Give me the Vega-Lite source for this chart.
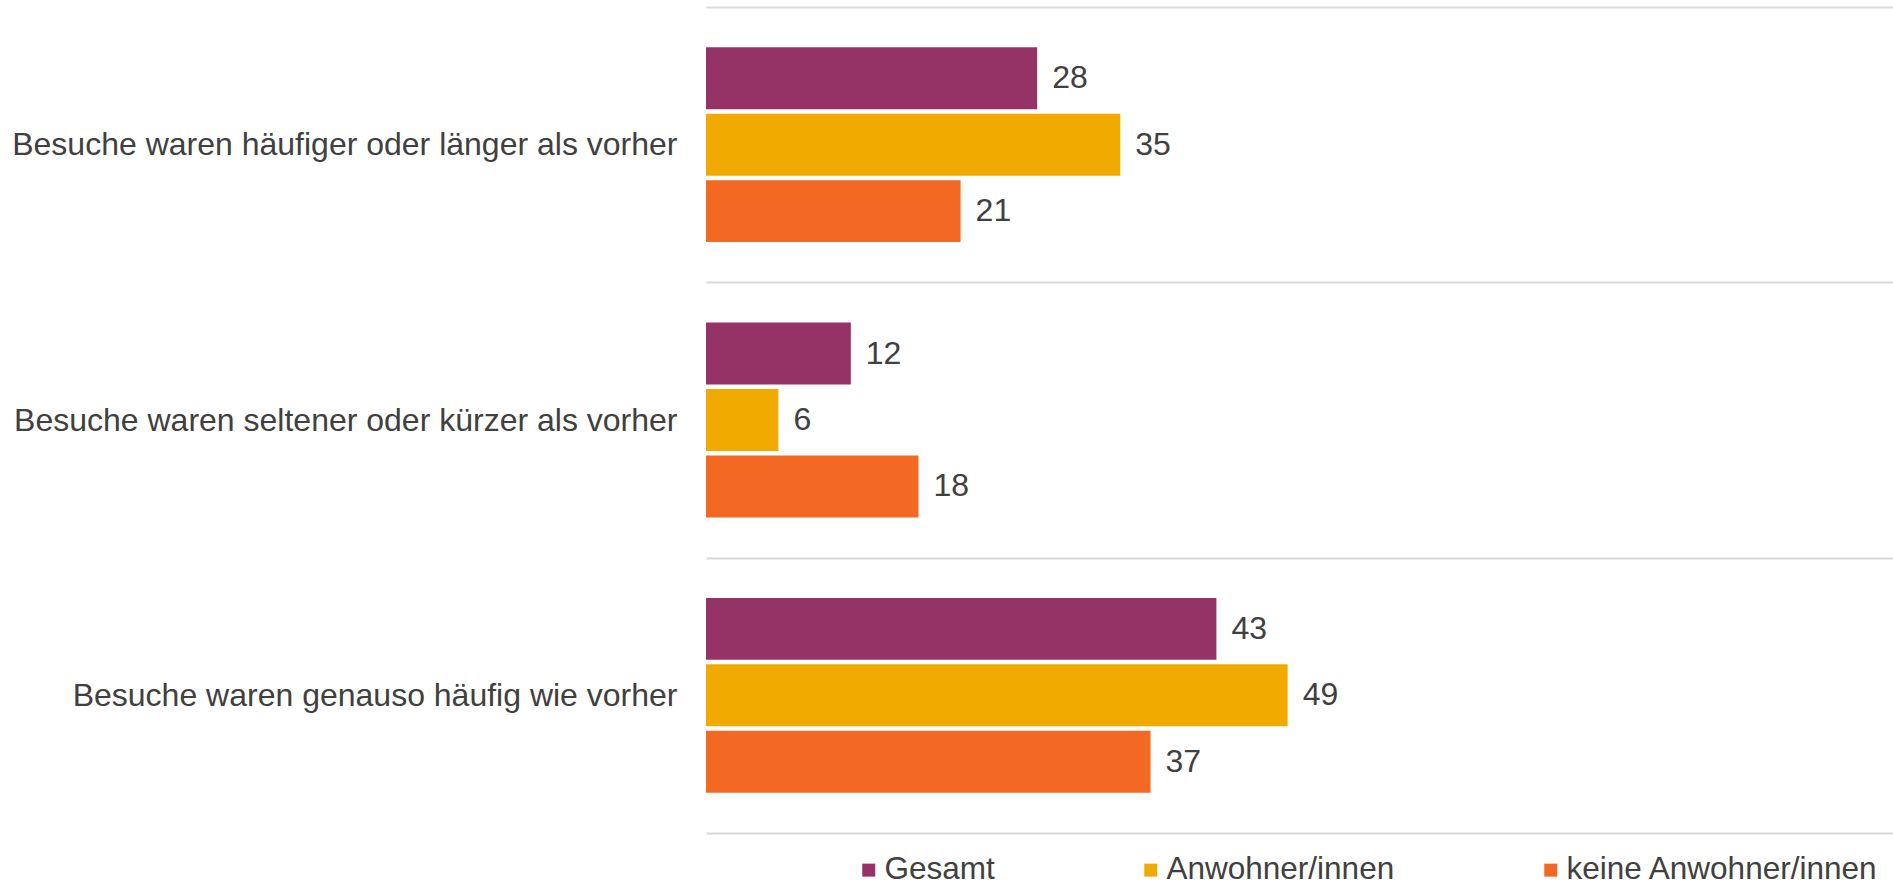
{
  "$schema": "https://vega.github.io/schema/vega-lite/v6.json",
  "width": 1187,
  "height": 826,
  "autosize": {"type": "none"},
  "padding": {"left": 706, "top": 7, "right": 0, "bottom": 53},
  "background": "white",
  "config": {"view": {"stroke": null}, "font": "Liberation Sans"},
  "data": {"values": [
    {"kategorie": "Besuche waren häufiger oder länger als vorher", "gruppe": "Gesamt", "wert": 27.9},
    {"kategorie": "Besuche waren häufiger oder länger als vorher", "gruppe": "Anwohner/innen", "wert": 34.9},
    {"kategorie": "Besuche waren häufiger oder länger als vorher", "gruppe": "keine Anwohner/innen", "wert": 21.45},
    {"kategorie": "Besuche waren seltener oder kürzer als vorher", "gruppe": "Gesamt", "wert": 12.2},
    {"kategorie": "Besuche waren seltener oder kürzer als vorher", "gruppe": "Anwohner/innen", "wert": 6.1},
    {"kategorie": "Besuche waren seltener oder kürzer als vorher", "gruppe": "keine Anwohner/innen", "wert": 17.9},
    {"kategorie": "Besuche waren genauso häufig wie vorher", "gruppe": "Gesamt", "wert": 43},
    {"kategorie": "Besuche waren genauso häufig wie vorher", "gruppe": "Anwohner/innen", "wert": 49},
    {"kategorie": "Besuche waren genauso häufig wie vorher", "gruppe": "keine Anwohner/innen", "wert": 37.45}
  ]},
  "encoding": {
    "y": {
      "field": "kategorie",
      "type": "nominal",
      "sort": ["Besuche waren häufiger oder länger als vorher", "Besuche waren seltener oder kürzer als vorher", "Besuche waren genauso häufig wie vorher"],
      "scale": {"paddingInner": 0, "paddingOuter": 0},
      "axis": {
        "title": null,
        "domain": false,
        "ticks": false,
        "tickSize": 0,
        "labelPadding": 29,
        "labelFontSize": 32,
        "labelFont": "Liberation Sans",
        "labelColor": "#404040",
        "labelLimit": 1000,
        "grid": true,
        "tickBand": "extent",
        "gridColor": "#d9d9d9",
        "gridWidth": 2
      }
    },
    "yOffset": {
      "field": "gruppe",
      "type": "nominal",
      "sort": ["Gesamt", "Anwohner/innen", "keine Anwohner/innen"],
      "scale": {"paddingInner": 0.068, "paddingOuter": 0.605}
    },
    "x": {"field": "wert", "type": "quantitative", "scale": {"domain": [0, 100]}, "axis": null}
  },
  "layer": [
    {
      "mark": {"type": "bar"},
      "encoding": {
        "color": {
          "field": "gruppe",
          "type": "nominal",
          "sort": ["Gesamt", "Anwohner/innen", "keine Anwohner/innen"],
          "scale": {"domain": ["Gesamt", "Anwohner/innen", "keine Anwohner/innen"], "range": ["#963366", "#f1ab00", "#f36924"]},
          "legend": {
            "title": null,
            "orient": "none",
            "legendX": 147,
            "legendY": 847,
            "direction": "horizontal",
            "columns": 3,
            "columnPadding": 140,
            "symbolType": "square",
            "symbolSize": 169,
            "symbolStrokeWidth": 0,
            "labelFontSize": 31.5,
            "labelFont": "Liberation Sans",
            "labelColor": "#404040",
            "labelOffset": 0,
            "labelLimit": 1000
          }
        }
      }
    },
    {
      "mark": {"type": "text", "align": "left", "baseline": "middle", "dx": 15, "fontSize": 32, "font": "Liberation Sans", "color": "#404040"},
      "encoding": {"text": {"field": "wert", "type": "quantitative", "format": ".0f"}}
    }
  ]
}
